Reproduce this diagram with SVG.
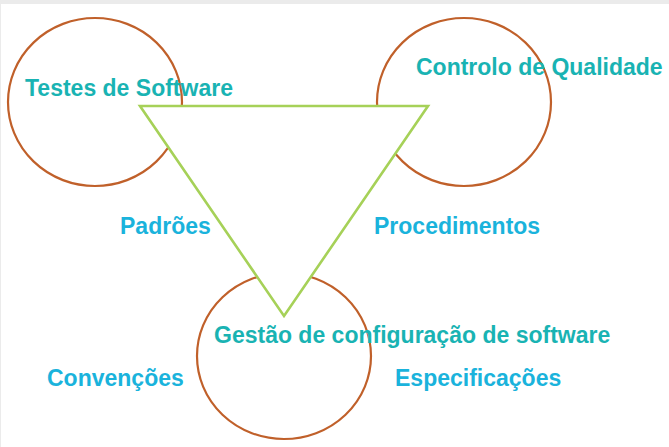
<svg xmlns="http://www.w3.org/2000/svg" width="669" height="447" viewBox="0 0 669 447">
<style>
.circ{fill:none;stroke:#c0602a;stroke-width:2.2}
.tri{fill:#ffffff;stroke:#a6d158;stroke-width:2.6;stroke-linejoin:miter}
.t{font-family:"Liberation Sans",Arial,sans-serif;font-weight:bold;font-size:23px}
.teal{fill:#19b3b3}
.blue{fill:#1ab3dc}
</style>
<rect x="0" y="0" width="669" height="447" fill="#ffffff"/>
<rect x="0" y="0" width="669" height="4" fill="#ebebeb"/>
<rect x="0" y="0" width="1" height="447" fill="#ebebeb"/>
<g id="node-testes"><ellipse class="circ" cx="95" cy="102" rx="87" ry="84"/></g>
<g id="node-controlo"><ellipse class="circ" cx="464" cy="102" rx="87" ry="84"/></g>
<g id="node-gestao"><ellipse class="circ" cx="284" cy="356" rx="87" ry="83"/></g>
<g id="connectors"><polygon class="tri" points="140,106 428,106 284,316"/></g>
<g id="labels">
<text class="t teal" x="25" y="96">Testes de Software</text>
<text class="t teal" x="416" y="75">Controlo de Qualidade</text>
<text class="t blue" x="120" y="234">Padrões</text>
<text class="t blue" x="374" y="234">Procedimentos</text>
<text class="t teal" x="214" y="343">Gestão de configuração de software</text>
<text class="t blue" x="47" y="386">Convenções</text>
<text class="t blue" x="395" y="386">Especificações</text>
</g>
</svg>
